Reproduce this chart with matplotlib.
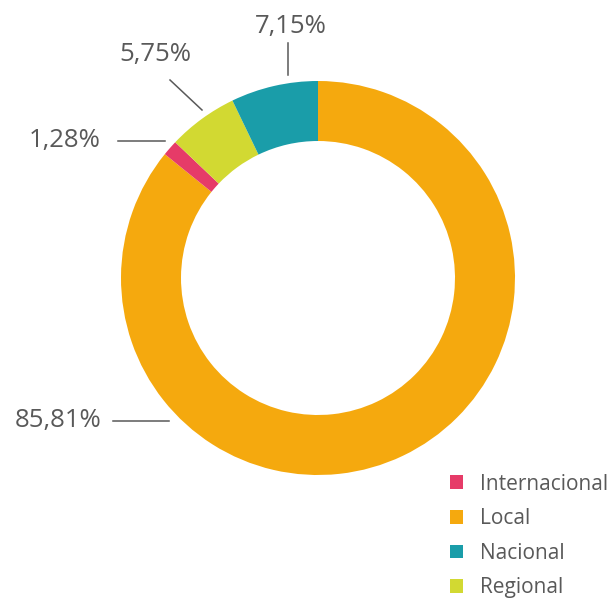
import matplotlib.pyplot as plt
from matplotlib.patches import Patch

categories = ['Local', 'Internacional', 'Regional', 'Nacional']
values = [85.81, 1.28, 5.75, 7.15]
colors = ['#F5A90E', '#E63B68', '#D2D932', '#1A9DA9']
legend_order = ['Internacional', 'Local', 'Nacional', 'Regional']

W, H = 611, 602
fig = plt.figure(figsize=(W / 100, H / 100), dpi=100)
ax = fig.add_axes([0, 0, 1, 1])

cx, cy, r = 318, H - 278, 197
ax.pie(values, colors=colors, startangle=90, counterclock=False,
       center=(cx, cy), radius=r, frame=True,
       wedgeprops=dict(width=60, linewidth=0))
ax.set_xlim(0, W)
ax.set_ylim(0, H)
ax.set_aspect('equal')
ax.axis('off')

txt_color = '#595959'
font = 'Open Sans'

def label(text, tx, ty, line, ha='center'):
    (x0, y0), (x1, y1) = line
    ax.plot([x0, x1], [H - y0, H - y1], color='#595959', lw=1.1)
    ax.text(tx, H - ty, text, ha=ha, va='center', fontsize=18.5,
            color=txt_color, family=font)

fmt = lambda v: f'{v:.2f}%'.replace('.', ',')
label(fmt(values[0]), 101, 420, [(113, 421), (169, 421)], ha='right')
label(fmt(values[1]), 101, 140, [(118, 141), (165, 141)], ha='right')
label(fmt(values[2]), 155, 55, [(170, 80), (202, 110)])
label(fmt(values[3]), 291, 26, [(288, 43), (288, 75)])

handles = [Patch(facecolor=colors[categories.index(c)], edgecolor='none')
           for c in legend_order]
leg = ax.legend(handles, legend_order, loc='upper left',
                bbox_to_anchor=(431 / W, 1 - 455 / H), frameon=False,
                handlelength=0.65, handleheight=0.65, handletextpad=0.8,
                labelspacing=0.65, prop={'family': font, 'size': 15})
for t in leg.get_texts():
    t.set_color(txt_color)

fig.savefig('out.png', dpi=100)
